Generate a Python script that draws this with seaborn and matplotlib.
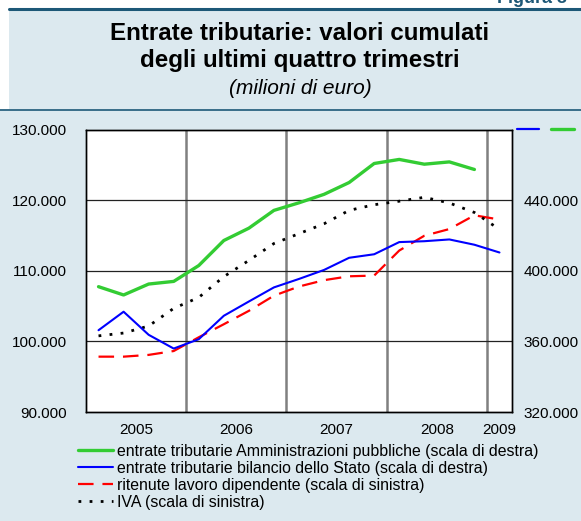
import matplotlib
matplotlib.use("Agg")
import matplotlib.pyplot as plt
from matplotlib.ticker import FuncFormatter
from matplotlib.lines import Line2D
import pandas as pd
import seaborn as sns

# Quarterly data, rolling sums of the last four quarters (million euro)
quarters = ["2005T1", "2005T2", "2005T3", "2005T4",
            "2006T1", "2006T2", "2006T3", "2006T4",
            "2007T1", "2007T2", "2007T3", "2007T4",
            "2008T1", "2008T2", "2008T3", "2008T4",
            "2009T1"]

# right scale
entrate_ap = [391100, 386400, 392600, 394100, 403100, 417300, 424300, 434400,
              438700, 443500, 450200, 461000, 463300, 460600, 461900, 457600]
entrate_stato = [366400, 376900, 363800, 356000, 361300, 374600, 382700, 390700,
                 395500, 400600, 407500, 409500, 416400, 416900, 417900, 414900,
                 410500]
# left scale
ritenute = [97850, 97850, 98100, 98650, 100600, 102450, 104350, 106500,
            107800, 108700, 109250, 109350, 112900, 115000, 115950, 117900,
            117300]
iva = [100800, 101200, 102200, 104700, 106250, 109200, 111500, 113900,
       115300, 116700, 118600, 119400, 119900, 120450, 119650, 118300,
       115900]

year_labels = ["2005", "2006", "2007", "2008", "2009"]
left_ticks = [90000, 100000, 110000, 120000, 130000]
right_ticks = [320000, 360000, 400000, 440000]

labels = ["entrate tributarie Amministrazioni pubbliche (scala di destra)",
          "entrate tributarie bilancio dello Stato (scala di destra)",
          "ritenute lavoro dipendente (scala di sinistra)",
          "IVA (scala di sinistra)"]


def quarter_pos(q):
    return int(q[:4]) + (int(q[-1]) - 0.5) / 4.0


xpos = [quarter_pos(q) for q in quarters]
df_right = pd.DataFrame({
    "x": xpos[:len(entrate_ap)] + xpos,
    "valore": entrate_ap + entrate_stato,
    "serie": [labels[0]] * len(entrate_ap) + [labels[1]] * len(entrate_stato),
})
df_left = pd.DataFrame({
    "x": xpos + xpos,
    "valore": ritenute + iva,
    "serie": [labels[2]] * len(ritenute) + [labels[3]] * len(iva),
})

sns.set_style("white")
plt.rcParams["font.family"] = ["Liberation Sans", "DejaVu Sans"]
plt.rcParams.update({"text.color": "black", "xtick.color": "black",
                     "ytick.color": "black", "axes.labelcolor": "black"})

BG = "#dce9ef"
RULE = "#1d5877"
GREEN = "#33cc33"
BLUE = "#0000ff"
RED = "#ff0000"

fig = plt.figure(figsize=(5.81, 5.21), dpi=100, facecolor=BG)
W, H = 581.0, 521.0

# header frame
fig.patches.append(plt.Rectangle((0, 1 - 8 / H), 1, 8 / H, transform=fig.transFigure,
                                 facecolor="white", edgecolor="none", zorder=0))
fig.patches.append(plt.Rectangle((0, 1 - 109 / H), 9 / W, 109 / H, transform=fig.transFigure,
                                 facecolor="white", edgecolor="none", zorder=0))
fig.add_artist(Line2D([9 / W, 1], [1 - 8.5 / H, 1 - 8.5 / H], transform=fig.transFigure,
                      color=RULE, lw=2.2))
fig.add_artist(Line2D([0, 1], [1 - 109.5 / H, 1 - 109.5 / H], transform=fig.transFigure,
                      color=RULE, lw=1.2))
fig.text(497 / W, 1 - 3 / H, "Figura 3", ha="left", va="baseline", fontsize=13,
         fontweight="bold", color=RULE)

TX = 300 / W
fig.text(TX, 1 - 33 / H, "Entrate tributarie: valori cumulati", ha="center", va="center",
         fontsize=17.4, fontweight="bold")
fig.text(TX, 1 - 60 / H, "degli ultimi quattro trimestri", ha="center", va="center",
         fontsize=17.4, fontweight="bold")
fig.text(TX, 1 - 88 / H, "(milioni di euro)", ha="center", va="center",
         fontsize=15, style="italic")

ax = fig.add_axes([86 / W, 1 - 412 / H, 426 / W, 282 / H])
ax.set_facecolor("white")
ax2 = ax.twinx()

sns.lineplot(data=df_left[df_left.serie == labels[2]], x="x", y="valore", ax=ax,
             color=RED, lw=1.6, linestyle=(0, (7, 4)), label=labels[2], zorder=4)
sns.lineplot(data=df_left[df_left.serie == labels[3]], x="x", y="valore", ax=ax,
             color="black", lw=2.0, linestyle=(0, (1, 3)), label=labels[3], zorder=4)
sns.lineplot(data=df_right[df_right.serie == labels[0]], x="x", y="valore", ax=ax2,
             color=GREEN, lw=2.4, label=labels[0], zorder=4)
sns.lineplot(data=df_right[df_right.serie == labels[1]], x="x", y="valore", ax=ax2,
             color=BLUE, lw=1.5, label=labels[1], zorder=4)

for a in (ax, ax2):
    leg = a.get_legend()
    if leg is not None:
        leg.remove()
    a.set_xlabel("")
    a.set_ylabel("")

ax.set_xlim(2005, 2009.25)
ax.set_ylim(left_ticks[0], left_ticks[-1])
ax2.set_ylim(320000, 480000)

fmt = FuncFormatter(lambda v, p: f"{v:,.0f}".replace(",", "."))
ax.set_yticks(left_ticks)
ax.yaxis.set_major_formatter(fmt)
ax2.set_yticks(right_ticks)
ax2.yaxis.set_major_formatter(fmt)
ax.tick_params(axis="y", length=0, pad=14, labelsize=11)
ax2.tick_params(axis="y", length=0, pad=8.5, labelsize=11)

# year boundaries and horizontal grid
for yb in [2006, 2007, 2008, 2009]:
    ax.axvline(yb, color="#808080", lw=1.8, zorder=2)
for yv in left_ticks[1:-1]:
    ax.axhline(yv, color="#222222", lw=0.9, zorder=2)

year_pos = [int(y) + 0.5 for y in year_labels[:-1]] + [2009.125]
ax.set_xticks(year_pos)
ax.set_xticklabels(year_labels)
minor = [y + f for y in range(2005, 2009) for f in (0.25, 0.75)]
ax.set_xticks(minor, minor=True)
ax.tick_params(axis="x", which="major", direction="in", length=7, width=1, pad=8,
               labelsize=11, color="black")
ax.tick_params(axis="x", which="minor", direction="in", length=3.5, width=1, color="black")
ax.xaxis.get_major_ticks()[-1].tick1line.set_visible(False)
ax2.tick_params(axis="x", length=0)

for a in (ax, ax2):
    for s in a.spines.values():
        s.set_color("black")
        s.set_linewidth(1.0)

# scale keys on the right axis
fig.add_artist(Line2D([517 / W, 539 / W], [1 - 129 / H] * 2, transform=fig.transFigure,
                      color=BLUE, lw=1.6))
fig.add_artist(Line2D([551 / W, 574 / W], [1 - 129 / H] * 2, transform=fig.transFigure,
                      color=GREEN, lw=2.4))

h1, l1 = ax2.get_legend_handles_labels()
h2, l2 = ax.get_legend_handles_labels()
fig.legend(h1 + h2, l1 + l2, loc="upper left", bbox_to_anchor=(78 / W, 1 - 444 / H),
           frameon=False, fontsize=11.45, handlelength=2.2, handletextpad=0.25,
           labelspacing=0.12, borderpad=0, borderaxespad=0)

fig.savefig("out.png", dpi=100, facecolor=BG)
